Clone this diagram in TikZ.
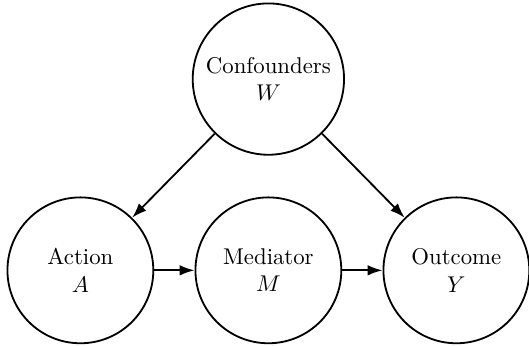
\documentclass[tikz,border=0pt]{standalone}
\usetikzlibrary{positioning, arrows.meta}
\tikzset{>={Latex[length=6.5pt,width=4.6pt]}}

\begin{document}
\begin{tikzpicture}
      \useasboundingbox (-4.14,-1.157) rectangle (4.02,4.17);
      \node[draw, thick, circle, minimum size=2.25cm, align=center] (med) at (0,0) {Mediator\\ $M$};
      \node[draw, thick, circle, minimum size=2.25cm, align=center, above of=med, node distance=2.95cm] (conf) {Confounders\\ $W$};
      \node[draw, thick, circle, minimum size=2.25cm, align=center, left of=med, node distance=2.9cm] (act) {Action\\ $A$};
      \node[draw, thick, circle, minimum size=2.25cm, align=center, right of=med, node distance=2.9cm] (out) {Outcome\\ $Y$};
      \draw[->, thick] (conf) to (act);
      \draw[->, thick] (conf) to (out);
      \draw[->, thick] (act) to (med);
      \draw[->, thick] (med) to (out);
    \end{tikzpicture}
\end{document}
